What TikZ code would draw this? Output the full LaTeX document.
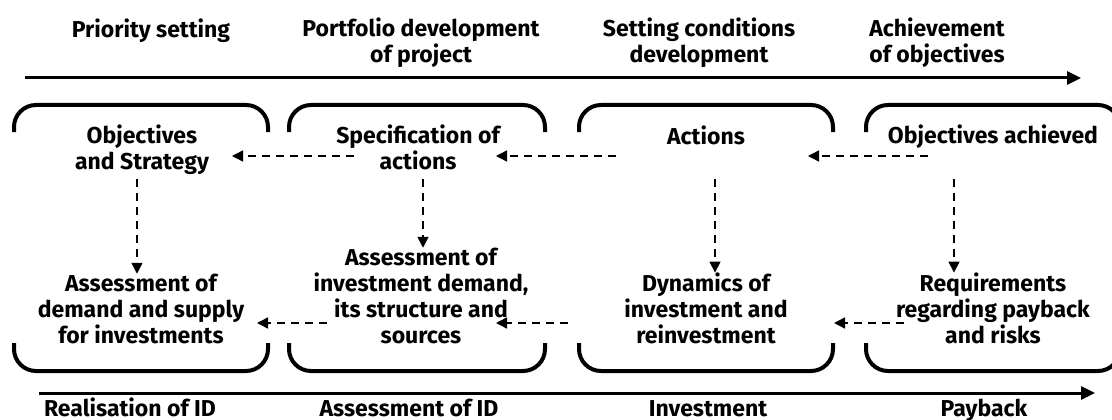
\documentclass[tikz,border=0pt]{standalone}
\usepackage{fontspec}
\setmainfont{Fira Sans}
\usetikzlibrary{arrows.meta}
\begin{document}
\begin{tikzpicture}[x=1pt,y=-1pt,
  every node/.style={font=\fontsize{23}{26}\selectfont\bfseries,align=center,inner sep=0pt},
  timeline/.style={line width=3pt,-{Triangle[length=14pt,width=13pt]}},
  flow/.style={line width=1.5pt,dash pattern=on 8pt off 6pt,-{Triangle[length=11pt,width=11pt]}},
  bracket/.style={line width=4pt,rounded corners=22pt}]
\useasboundingbox (0,0) rectangle (1112,420);
\coordinate (hi) at (0,156);
\coordinate (lo) at (0,323);
\coordinate (vt) at (0,179);
% phases
\node[anchor=north] (prio) at (151,19) {Priority setting};
\node[anchor=north] (port) at (421,18) {Portfolio development\\of project};
\node[anchor=north] (cond) at (699,18) {Setting conditions\\development};
\node[anchor=north] (achv) at (937,18) {Achievement\\of objectives};
\coordinate (t0) at (25,78);
\coordinate (t1) at (1081,78);
\draw[timeline] (t0) -- (t1);
% brackets
\foreach \a/\b in {14/268,289/545,579/833,866/1120} {
  \draw[bracket] (\a,132) |- (\b,105) -- (\b,132);
  \draw[bracket] (\a,343) |- (\b,371) -- (\b,343);
}
\node[anchor=north] (obj) at (142,125) {Objectives\\and Strategy};
\node[anchor=north] (spec) at (418,125) {Specification of\\actions};
\node[anchor=north] (act) at (706,126) {Actions};
\node[anchor=north] (done) at (993,125) {Objectives achieved};
\node[anchor=south] (dem) at (141,344) {Assessment of\\demand and supply\\for investments};
\node[anchor=south] (inv) at (421,344) {Assessment of\\investment demand,\\its structure and\\sources};
\node[anchor=south] (dyn) at (706,344) {Dynamics of\\investment and\\reinvestment};
\node[anchor=south] (req) at (993,344) {Requirements\\regarding payback\\and risks};
% links
\draw[flow] ([xshift=-64pt]spec |- hi) -- ([xshift=90pt]obj |- hi);
\draw[flow] ([xshift=-90pt]act |- hi) -- ([xshift=78pt]spec |- hi);
\draw[flow] ([xshift=-65pt]done |- hi) -- ([xshift=102pt]act |- hi);
\draw[flow] ([xshift=-5pt]obj |- vt) -- ([xshift=-4pt]dem.north);
\draw[flow] ([xshift=5pt]spec |- vt) -- ([xshift=2pt]inv.north);
\draw[flow] ([xshift=9pt]act |- vt) -- ([xshift=9pt]dyn.north);
\draw[flow] ([xshift=-39pt]done |- vt) -- ([xshift=-39pt]req.north);
\draw[flow] ([xshift=-94pt]inv |- lo) -- ([xshift=116pt]dem |- lo);
\draw[flow] ([xshift=-138pt]dyn |- lo) -- ([xshift=75pt]inv |- lo);
\draw[flow] ([xshift=-89pt]req |- lo) -- ([xshift=128pt]dyn |- lo);
% stages
\coordinate (b0) at (39,393);
\coordinate (b1) at (1095,393);
\draw[timeline] (b0) -- (b1);
\node[anchor=base] (real) at (130,416) {Realisation of ID};
\node[anchor=base] (asid) at (409,416) {Assessment of ID};
\node[anchor=base] (invs) at (708,416) {Investment};
\node[anchor=base] (pay) at (984,416) {Payback};
\end{tikzpicture}
\end{document}
